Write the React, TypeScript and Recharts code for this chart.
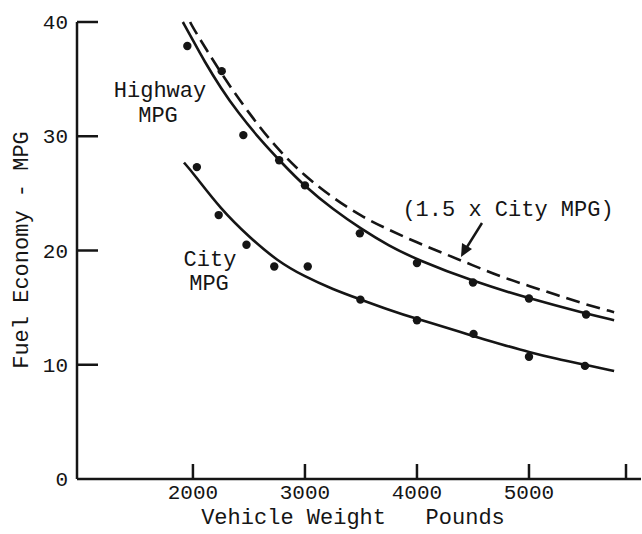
import { ComposedChart, Line, Scatter, XAxis, YAxis } from 'recharts';

const hwyCurveW = [1910, 2000, 2100, 2250, 2400, 2600, 2800, 3000, 3250, 3500, 3750, 4000, 4500, 5000, 5500, 5760];
const hwyCurveMpg = [40.0, 38.4, 36.6, 34.2, 32.1, 29.7, 27.6, 25.6, 23.6, 21.9, 20.4, 19.2, 17.3, 15.8, 14.5, 13.9];

const dashCurveW = [1975, 2000, 2250, 2500, 2750, 3000, 3250, 3500, 3750, 4000, 4250, 4500, 4750, 5000, 5250, 5500, 5760];
const dashCurveMpg = [40.0, 39.5, 35.5, 32.0, 28.9, 26.5, 24.6, 23.0, 21.8, 20.7, 19.7, 18.7, 17.7, 16.9, 16.1, 15.3, 14.6];

const cityCurveW = [1920, 2000, 2250, 2500, 2750, 3000, 3250, 3500, 3750, 4000, 4250, 4500, 4750, 5000, 5250, 5500, 5760];
const cityCurveMpg = [27.7, 26.8, 23.6, 21.2, 19.1, 17.7, 16.6, 15.7, 14.8, 14.0, 13.3, 12.5, 11.8, 11.1, 10.5, 10.0, 9.45];

// measured points
const hwyPtW = [1950, 2257, 2450, 2770, 3000, 3490, 4000, 4500, 5000, 5510];
const hwyPtMpg = [37.9, 35.7, 30.1, 27.9, 25.7, 21.5, 18.9, 17.2, 15.8, 14.4];

const cityPtW = [2035, 2230, 2478, 2726, 3025, 3495, 4000, 4505, 5000, 5500];
const cityPtMpg = [27.3, 23.1, 20.5, 18.6, 18.6, 15.7, 13.9, 12.7, 10.7, 9.9];

const xTicks = [2000, 3000, 4000, 5000, 6000];
const yTicks = [0, 10, 20, 30, 40];

const zip = (w: number[], m: number[]) => w.map((x, i) => ({ x, y: m[i] }));

const hwyCurve = zip(hwyCurveW, hwyCurveMpg);
const dashCurve = zip(dashCurveW, dashCurveMpg);
const cityCurve = zip(cityCurveW, cityCurveMpg);
const hwyPts = zip(hwyPtW, hwyPtMpg);
const cityPts = zip(cityPtW, cityPtMpg);

const FONT = '"Liberation Mono", "DejaVu Sans Mono", monospace';
const INK = '#151515';

const XTick = (props: any) => {
  const { x, y, payload } = props;
  return (
    <g>
      <line x1={x} y1={y} x2={x} y2={y - 15} stroke={INK} strokeWidth={2.5} />
      {payload.value < 6000 && (
        <text x={x} y={y + 20} textAnchor="middle" fontFamily={FONT} fontSize={21} fill={INK}>
          {payload.value}
        </text>
      )}
    </g>
  );
};

const YTick = (props: any) => {
  const { x, y, payload } = props;
  return (
    <g>
      {payload.value > 0 && <line x1={x} y1={y} x2={x + 21} y2={y} stroke={INK} strokeWidth={2.5} />}
      <text x={x - 9} y={y + 7} textAnchor="end" fontFamily={FONT} fontSize={21} fill={INK}>
        {payload.value}
      </text>
    </g>
  );
};

const dot = (p: any) => <circle cx={p.cx} cy={p.cy} r={4.2} fill={INK} />;

export default function App() {
  const txt = { fontFamily: FONT, fontSize: 22, fill: INK } as const;
  return (
    <div style={{ position: 'absolute', left: 0, top: 0, width: 642, height: 534, background: '#fff' }}>
      <ComposedChart width={642} height={534} margin={{ top: 22, right: 1, bottom: 0, left: 0 }}>
        <XAxis
          type="number"
          dataKey="x"
          domain={[965, 6000]}
          ticks={xTicks}
          allowDataOverflow
          height={55}
          tickSize={0}
          tickMargin={0}
          tick={<XTick />}
          axisLine={{ stroke: INK, strokeWidth: 2.5 }}
        />
        <YAxis
          type="number"
          dataKey="y"
          domain={[0, 40]}
          ticks={yTicks}
          width={77}
          tickSize={0}
          tickMargin={0}
          tick={<YTick />}
          axisLine={{ stroke: INK, strokeWidth: 2.5 }}
        />
        <Line data={dashCurve} dataKey="y" type="basis" stroke={INK} strokeWidth={2.6} strokeDasharray="14 7" dot={false} isAnimationActive={false} />
        <Line data={hwyCurve} dataKey="y" type="basis" stroke={INK} strokeWidth={2.6} dot={false} isAnimationActive={false} />
        <Line data={cityCurve} dataKey="y" type="basis" stroke={INK} strokeWidth={2.6} dot={false} isAnimationActive={false} />
        <Scatter data={hwyPts} dataKey="y" shape={dot} isAnimationActive={false} />
        <Scatter data={cityPts} dataKey="y" shape={dot} isAnimationActive={false} />
      </ComposedChart>
      <svg width={642} height={534} style={{ position: 'absolute', left: 0, top: 0, pointerEvents: 'none' }}>
        <text {...txt} x={22} y={250} textAnchor="middle" dominantBaseline="central" transform="rotate(-90 22 250)">
          Fuel Economy - MPG
        </text>
        <text {...txt} x={353} y={524} textAnchor="middle" style={{ whiteSpace: 'pre' }}>
          {'Vehicle Weight   Pounds'}
        </text>
        <text {...txt} x={160} y={97} textAnchor="middle">Highway</text>
        <text {...txt} x={158} y={122} textAnchor="middle">MPG</text>
        <text {...txt} x={210} y={266} textAnchor="middle">City</text>
        <text {...txt} x={209} y={290} textAnchor="middle">MPG</text>
        <text {...txt} x={508} y={216} textAnchor="middle">(1.5 x City MPG)</text>
        <line x1={482} y1={223} x2={467} y2={247} stroke={INK} strokeWidth={2.5} />
        <polygon points="461,257 462,243 472,249" fill={INK} />
      </svg>
    </div>
  );
}
